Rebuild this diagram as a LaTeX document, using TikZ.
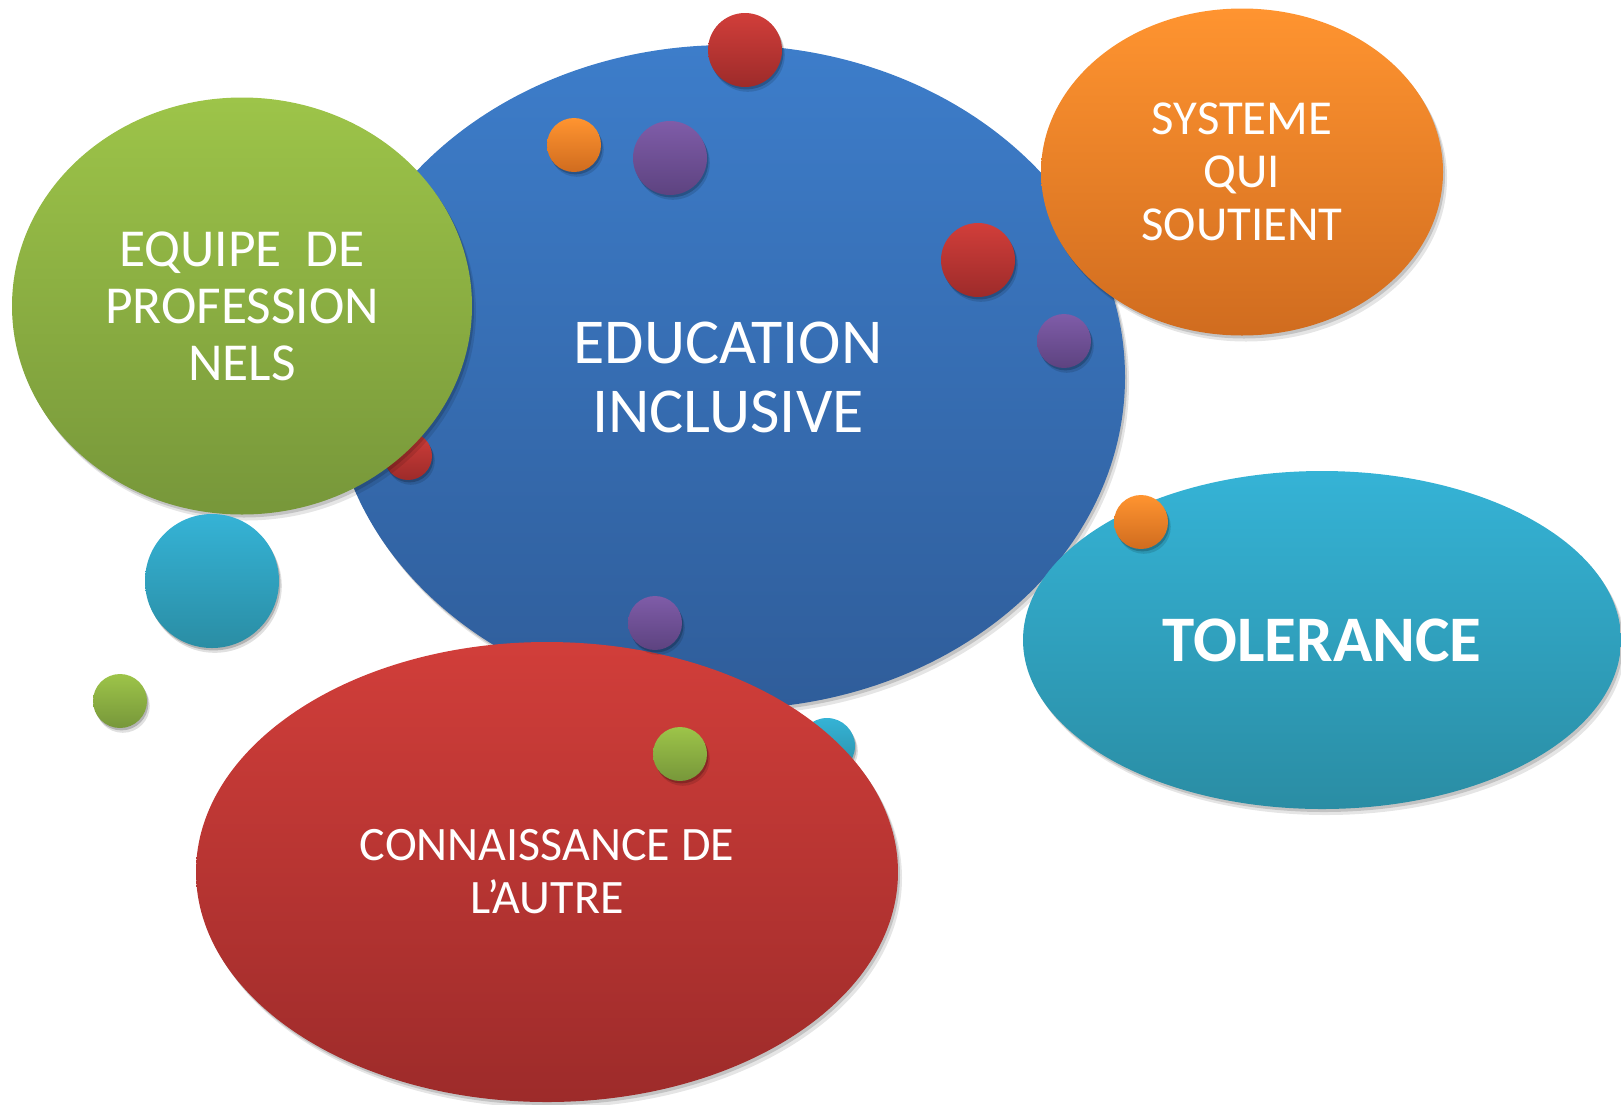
\documentclass[tikz,border=0pt]{standalone}
\usepackage{fontspec}
\setmainfont{Carlito}
\usetikzlibrary{shapes.geometric,shadows}

\definecolor{bluetop}{HTML}{3D7DCA}
\definecolor{bluebot}{HTML}{2F5D9A}
\definecolor{greentop}{HTML}{9DC449}
\definecolor{greenbot}{HTML}{77973A}
\definecolor{orangetop}{HTML}{FF9430}
\definecolor{orangebot}{HTML}{D06C1F}
\definecolor{tealtop}{HTML}{35B3D6}
\definecolor{tealbot}{HTML}{2A8DA4}
\definecolor{redtop}{HTML}{D13E3A}
\definecolor{redbot}{HTML}{9D2B2A}
\definecolor{purpletop}{HTML}{7F5CA8}
\definecolor{purplebot}{HTML}{5D4380}

\begin{document}
\begin{tikzpicture}[x=0.5pt,y=-0.5pt,
    bubble/.style={ellipse, inner sep=0pt, text=white, align=center,
      drop shadow={shadow xshift=1pt, shadow yshift=-1.5pt, opacity=0.15, fill=black},
      drop shadow={shadow xshift=2pt, shadow yshift=-3pt, opacity=0.1, fill=black}},
    ball/.style={circle, inner sep=0pt, minimum size=#1,
      drop shadow={shadow xshift=0.7pt, shadow yshift=-1.2pt, opacity=0.2, fill=black},
      drop shadow={shadow xshift=1.4pt, shadow yshift=-2.4pt, opacity=0.12, fill=black}},
    blueish/.style={top color=bluetop, bottom color=bluebot},
    greenish/.style={top color=greentop, bottom color=greenbot},
    orangeish/.style={top color=orangetop, bottom color=orangebot},
    tealish/.style={top color=tealtop, bottom color=tealbot},
    redish/.style={top color=redtop, bottom color=redbot},
    purpleish/.style={top color=purpletop, bottom color=purplebot}]
  \useasboundingbox (0,0) rectangle (1621,1104);

  % big bubble in the middle
  \node[bubble, blueish, minimum width=397pt, minimum height=332pt,
        font=\fontsize{32}{34.5}\selectfont] (edu) at (728,377) {EDUCATION\\INCLUSIVE};

  % small ball hidden behind the green bubble
  \node[ball=24pt, redish] (r3) at (408,456) {};

  \node[bubble, greenish, minimum width=230pt, minimum height=208.5pt,
        font=\fontsize{26.7}{28.5}\selectfont] (equipe) at (242,306) {EQUIPE\ \ DE\\PROFESSION\\NELS};
  \node[bubble, orangeish, minimum width=201pt, minimum height=163.5pt,
        font=\fontsize{24.4}{26.5}\selectfont] (systeme) at (1242,172) {SYSTEME\\QUI\\SOUTIENT};
  \node[bubble, tealish, minimum width=299pt, minimum height=169pt,
        font=\fontsize{32.5}{34.5}\selectfont\bfseries] (tol) at (1322,640) {TOLERANCE};

  % small ball hidden behind the red bubble
  \node[ball=28pt, tealish] (t2) at (827,746) {};

  \node[bubble, redish, minimum width=351pt, minimum height=230pt,
        font=\fontsize{24}{26.5}\selectfont] (autre) at (547,872) {CONNAISSANCE DE\\L’AUTRE};

  % the other small balls
  \node[ball=37pt, redish]    (r1) at (745,50) {};
  \node[ball=27pt, orangeish] (o1) at (574,145) {};
  \node[ball=37pt, purpleish] (p1) at (670,158) {};
  \node[ball=37pt, redish]    (r2) at (978,260) {};
  \node[ball=27pt, purpleish] (p2) at (1064,341) {};
  \node[ball=67pt, tealish]   (t1) at (212,581) {};
  \node[ball=27pt, greenish]  (g1) at (120,701) {};
  \node[ball=27pt, purpleish] (p3) at (655,623) {};
  \node[ball=27pt, greenish]  (g2) at (680,754) {};
  \node[ball=27pt, orangeish] (o2) at (1141,522) {};

\end{tikzpicture}
\end{document}
